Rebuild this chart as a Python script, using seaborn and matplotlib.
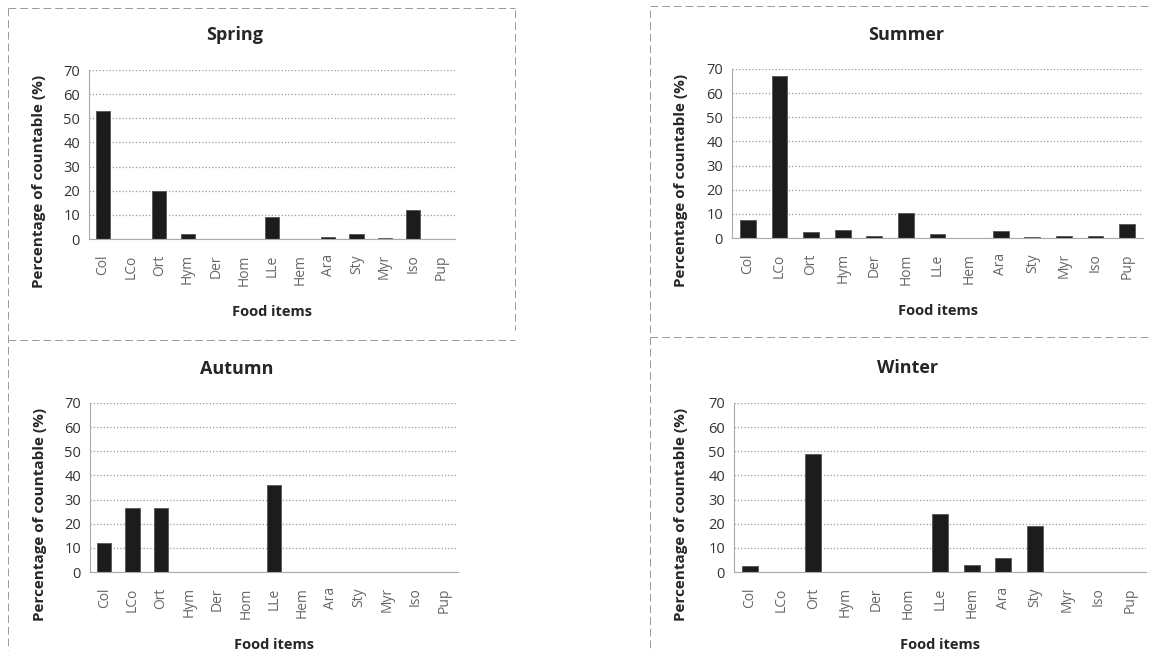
import pandas as pd
import matplotlib
matplotlib.use("Agg")
import matplotlib.pyplot as plt
from matplotlib.lines import Line2D
import seaborn as sns

items = ['Col', 'LCo', 'Ort', 'Hym', 'Der', 'Hom', 'LLe', 'Hem', 'Ara', 'Sty', 'Myr', 'Iso', 'Pup']

spring = [53, 0, 20, 2, 0, 0, 9, 0, 0.7, 2, 0.6, 12, 0]
summer = [7.5, 67, 2.5, 3.5, 1, 10.5, 1.5, 0, 3, 0.3, 0.8, 0.8, 6]
autumn = [12, 26.5, 26.5, 0, 0, 0, 36, 0, 0, 0, 0, 0, 0]
winter = [2.5, 0, 49, 0, 0, 0, 24, 3, 6, 19, 0, 0, 0]

seasons = ['Spring', 'Summer', 'Autumn', 'Winter']
season_values = [spring, summer, autumn, winter]

sns.set_style("white")
plt.rcParams['font.family'] = ['Open Sans', 'DejaVu Sans']

W, H = 1152, 662
fig = plt.figure(figsize=(W / 100, H / 100), dpi=100)

# axes boxes in pixels: left, top, right, bottom
boxes = [(89, 70, 455, 239), (732, 69, 1143, 238),
         (90, 403, 458, 572), (734, 403, 1146, 572)]
title_pos = [(235, 35), (906, 35), (237, 369), (908, 368)]
ylabel_x = [39, 681, 40, 681]  # centre of rotated y label, px

for name, vals, box, tpos, yx in zip(seasons, season_values, boxes, title_pos, ylabel_x):
    l, t, r, b = box
    ax = fig.add_axes([l / W, 1 - b / H, (r - l) / W, (b - t) / H])
    df = pd.DataFrame({'item': items, 'pct': vals})
    sns.barplot(data=df, x='item', y='pct', color='#1c1c1c', width=0.5,
                edgecolor='#555555', linewidth=0.6, ax=ax, order=items)
    ax.set_ylim(0, 70)
    ax.set_yticks(range(0, 71, 10))
    ax.set_xlim(-0.5, len(items) - 0.5)
    ax.yaxis.grid(True, linestyle=':', color='#999999', linewidth=0.9)
    ax.set_axisbelow(True)
    for s in ['top', 'right']:
        ax.spines[s].set_visible(False)
    for s in ['left', 'bottom']:
        ax.spines[s].set_color('#aaaaaa')
        ax.spines[s].set_linewidth(0.8)
    ax.tick_params(axis='x', rotation=90, labelsize=10, labelcolor='#666666',
                   length=3, color='#aaaaaa', pad=8)
    ax.tick_params(axis='y', labelsize=10.5, labelcolor='#333333', length=3, color='#aaaaaa')
    ax.set_xlabel('Food items', fontsize=10.5, fontweight='bold', labelpad=14)
    ax.set_ylabel('Percentage of countable (%)', fontsize=11, fontweight='bold')
    ax.yaxis.set_label_coords((yx + 7 - l) / (r - l), 0.34)
    fig.text(tpos[0] / W, 1 - tpos[1] / H, name, ha='center', va='center',
             fontsize=13, fontweight='bold')

# panel separators (dashed, light gray)
dash = dict(color='#999999', linewidth=0.7, linestyle=(0, (8, 4)), transform=fig.transFigure)
fig.add_artist(Line2D([8 / W, 515 / W], [1 - 8 / H, 1 - 8 / H], **dash))
fig.add_artist(Line2D([650 / W, 1150 / W], [1 - 6 / H, 1 - 6 / H], **dash))
fig.add_artist(Line2D([8 / W, 515 / W], [1 - 340 / H, 1 - 340 / H], **dash))
fig.add_artist(Line2D([650 / W, 1150 / W], [1 - 337 / H, 1 - 337 / H], **dash))
fig.add_artist(Line2D([8 / W, 8 / W], [1 - 8 / H, 1 - 650 / H], **dash))
fig.add_artist(Line2D([515 / W, 515 / W], [1 - 10 / H, 1 - 330 / H], **dash))
fig.add_artist(Line2D([650 / W, 650 / W], [1 - 10 / H, 1 - 650 / H], **dash))

fig.savefig('out.png', dpi=100)
